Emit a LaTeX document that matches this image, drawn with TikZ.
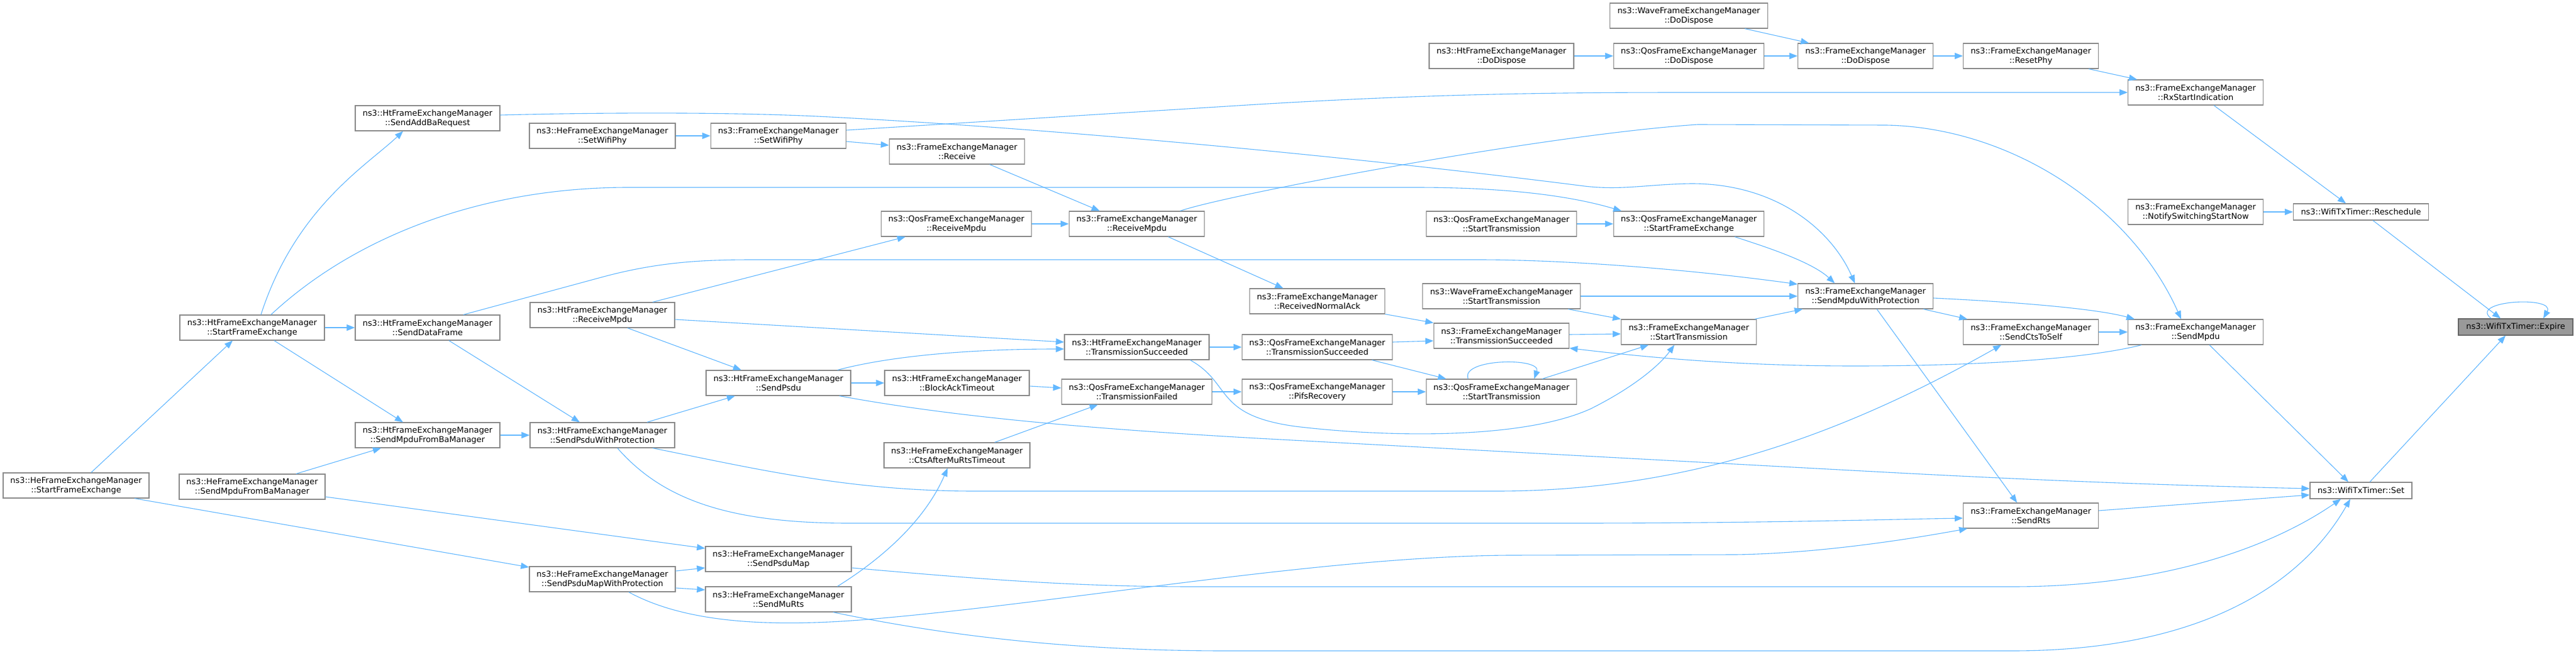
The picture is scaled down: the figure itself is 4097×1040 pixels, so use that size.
\documentclass[tikz,border=0pt]{standalone}
\usepackage{fontspec}
\setmainfont{DejaVu Sans}
\usetikzlibrary{arrows.meta}
\definecolor{edgeblue}{HTML}{63B8FF}
\definecolor{boxline}{HTML}{8A8A8A}
\definecolor{boxgray}{HTML}{999999}
\definecolor{boxdark}{HTML}{666666}

\begin{document}
\begin{tikzpicture}[x=1pt, y=-1pt,
    fn/.style={draw=boxline, line width=1.2pt, fill=white, inner sep=0pt, minimum height=40pt, align=center, font=\fontsize{12.9}{15}\selectfont},
    fem/.style={fn, minimum width=215pt},
    htm/.style={fn, minimum width=230pt},
    hem/.style={fn, minimum width=232pt},
    qosm/.style={fn, minimum width=239pt},
    wavem/.style={fn, minimum width=251pt},
    timer/.style={fn, minimum height=26pt},
    call/.style={draw=edgeblue, line width=1.1pt, -{Triangle[length=13pt,width=10pt]}}] %callers
            \path[use as bounding box, fill=white] (0,0) rectangle (4097,1040);

            \node[hem] (hesfe) at (121,772) {ns3::HeFrameExchangeManager\\::StartFrameExchange};
            \node[htm] (htsfe) at (401,521) {ns3::HtFrameExchangeManager\\::StartFrameExchange};
            \node[hem] (hesmfb) at (401,774) {ns3::HeFrameExchangeManager\\::SendMpduFromBaManager};
            \node[htm] (htaddba) at (680,188) {ns3::HtFrameExchangeManager\\::SendAddBaRequest};
            \node[htm] (htsdf) at (680,521) {ns3::HtFrameExchangeManager\\::SendDataFrame};
            \node[htm] (htsmfb) at (680,692) {ns3::HtFrameExchangeManager\\::SendMpduFromBaManager};
            \node[hem] (heswp) at (958,216) {ns3::HeFrameExchangeManager\\::SetWifiPhy};
            \node[htm] (htrmpdu) at (958,501) {ns3::HtFrameExchangeManager\\::ReceiveMpdu};
            \node[htm] (htspwp) at (958,692) {ns3::HtFrameExchangeManager\\::SendPsduWithProtection};
            \node[hem] (hespmwp) at (958,921) {ns3::HeFrameExchangeManager\\::SendPsduMapWithProtection};
            \node[fem] (feswp) at (1238,216) {ns3::FrameExchangeManager\\::SetWifiPhy};
            \node[htm] (htspsdu) at (1238,609) {ns3::HtFrameExchangeManager\\::SendPsdu};
            \node[hem] (hespm) at (1238,889) {ns3::HeFrameExchangeManager\\::SendPsduMap};
            \node[hem] (hesmurts) at (1238,953) {ns3::HeFrameExchangeManager\\::SendMuRts};
            \node[fem] (ferecv) at (1522,241) {ns3::FrameExchangeManager\\::Receive};
            \node[qosm] (qosrmpdu) at (1521,356) {ns3::QosFrameExchangeManager\\::ReceiveMpdu};
            \node[htm] (htbat) at (1522,609) {ns3::HtFrameExchangeManager\\::BlockAckTimeout};
            \node[hem] (hects) at (1522,724) {ns3::HeFrameExchangeManager\\::CtsAfterMuRtsTimeout};
            \node[fem] (fermpdu) at (1808,356) {ns3::FrameExchangeManager\\::ReceiveMpdu};
            \node[htm] (htts) at (1808,552) {ns3::HtFrameExchangeManager\\::TransmissionSucceeded};
            \node[qosm] (qostf) at (1808,623) {ns3::QosFrameExchangeManager\\::TransmissionFailed};
            \node[fem] (fernack) at (2095,479) {ns3::FrameExchangeManager\\::ReceivedNormalAck};
            \node[qosm] (qosts) at (2095,552) {ns3::QosFrameExchangeManager\\::TransmissionSucceeded};
            \node[qosm] (qospifs) at (2095,623) {ns3::QosFrameExchangeManager\\::PifsRecovery};
            \node[htm] (htdd) at (2388,89) {ns3::HtFrameExchangeManager\\::DoDispose};
            \node[qosm] (qosstx) at (2388,356) {ns3::QosFrameExchangeManager\\::StartTransmission};
            \node[wavem] (wavestx) at (2388,471) {ns3::WaveFrameExchangeManager\\::StartTransmission};
            \node[fem] (fets) at (2388,534) {ns3::FrameExchangeManager\\::TransmissionSucceeded};
            \node[qosm] (qosstxb) at (2388,623) {ns3::QosFrameExchangeManager\\::StartTransmission};
            \node[wavem] (wavedd) at (2686,25) {ns3::WaveFrameExchangeManager\\::DoDispose};
            \node[qosm] (qosdd) at (2686,89) {ns3::QosFrameExchangeManager\\::DoDispose};
            \node[qosm] (qossfe) at (2686,356) {ns3::QosFrameExchangeManager\\::StartFrameExchange};
            \node[fem] (festx) at (2686,528) {ns3::FrameExchangeManager\\::StartTransmission};
            \node[fem] (fedd) at (2967,89) {ns3::FrameExchangeManager\\::DoDispose};
            \node[fem] (fesmwp) at (2967,471) {ns3::FrameExchangeManager\\::SendMpduWithProtection};
            \node[fem] (ferp) at (3230,89) {ns3::FrameExchangeManager\\::ResetPhy};
            \node[fem] (fects) at (3230,528) {ns3::FrameExchangeManager\\::SendCtsToSelf};
            \node[fem] (ferts) at (3230,820) {ns3::FrameExchangeManager\\::SendRts};
            \node[fem] (ferxsi) at (3492,147) {ns3::FrameExchangeManager\\::RxStartIndication};
            \node[fem] (fenssn) at (3492,337) {ns3::FrameExchangeManager\\::NotifySwitchingStartNow};
            \node[fem] (fesmpdu) at (3492,528) {ns3::FrameExchangeManager\\::SendMpdu};
            \node[timer, minimum width=215pt] (resched) at (3755,337) {ns3::WifiTxTimer::Reschedule};
            \node[timer, minimum width=162pt] (txset) at (3755,780) {ns3::WifiTxTimer::Set};
            \node[timer, minimum width=182pt, fill=boxgray, draw=boxdark] (expire) at (4001,520) {ns3::WifiTxTimer::Expire};

            \draw[call] ([xshift=24pt]hesfe.north) -- ([xshift=-31pt]htsfe.south);
            \draw[call] ([xshift=93pt]hesfe.south) -- ([yshift=19pt]hespmwp.west);
            \draw[call] ([xshift=14pt]htsfe.north) .. controls (470,330) and (585,262) .. ([xshift=-39pt]htaddba.south);
            \draw[call] ([xshift=30pt]htsfe.north) .. controls (560,380) and (760,298) .. (1000,298) -- (2250,298) .. controls (2400,298) and (2500,312) .. ([xshift=13pt]qossfe.north west);
            \draw[call] (htsfe.east) -- (htsdf.west);
            \draw[call] ([xshift=35pt]htsfe.south) -- ([xshift=-39pt]htsmfb.north);
            \draw[call] ([xshift=70pt]hesmfb.north) -- ([xshift=-74pt]htsmfb.south);
            \draw[call] ([yshift=-16pt]hesmfb.east) -- ([yshift=17pt]hespm.west);
            \draw[call] ([yshift=5pt]htaddba.east) .. controls (950,179) and (1150,178) .. (1300,185) .. controls (1700,205) and (2200,255) .. (2520,296) .. controls (2580,303) and (2620,293) .. (2690,292) .. controls (2830,292) and (2915,370) .. ([xshift=-17pt]fesmwp.north);
            \draw[call] (heswp.east) -- (feswp.west);
            \draw[call] ([yshift=9pt]feswp.east) -- (2000,166) .. controls (2300,148) and (2500,147) .. (2700,147) -- (ferxsi.west);
            \draw[call] ([yshift=-9pt]feswp.east) -- ([yshift=10pt]ferecv.west);
            \draw[call] ([xshift=52pt]ferecv.south) -- ([xshift=-59pt]fermpdu.north);
            \draw[call] (qosrmpdu.east) -- (fermpdu.west);
            \draw[call] ([xshift=80pt]htrmpdu.north) -- ([xshift=-81pt]qosrmpdu.south);
            \draw[call] ([xshift=69pt]fermpdu.north) .. controls (1950,310) and (2450,215) .. (2700,198) -- (3000,199) .. controls (3200,203) and (3390,330) .. ([xshift=-23pt]fesmpdu.north);
            \draw[call] ([xshift=50pt]fermpdu.south) -- ([xshift=-54pt]fernack.north);
            \draw[call] (fernack.south east) -- (fets.north west);
            \draw[call] ([xshift=57pt]htsdf.north) -- (960,440) .. controls (1050,416) and (1120,413) .. (1200,413) -- (2350,413) .. controls (2500,413) and (2700,430) .. ([yshift=19pt]fesmwp.west);
            \draw[call] ([xshift=34pt]htsdf.south) -- ([xshift=-36pt]htspwp.north);
            \draw[call] (htsmfb.east) -- (htspwp.west);
            \draw[call] ([xshift=40pt]htrmpdu.south) -- ([xshift=-59pt]htspsdu.north);
            \draw[call] ([yshift=-7pt]htrmpdu.east) -- ([yshift=8pt]htts.west);
            \draw[call] ([xshift=71pt]htspwp.north) -- ([xshift=-69pt]htspsdu.south);
            \draw[call] ([xshift=94pt]htspsdu.north) .. controls (1420,565) and (1550,555) .. ([yshift=-3pt]htts.west);
            \draw[call] (htspsdu.east) -- (htbat.west);
            \draw[call] ([xshift=97pt]htspsdu.south) .. controls (1500,660) and (1700,680) .. (2000,697) -- (3000,751) .. controls (3300,767) and (3500,773) .. ([yshift=3pt]txset.west);
            \draw[call] ([yshift=-5pt]htbat.east) -- ([yshift=6pt]qostf.west);
            \draw[call] ([xshift=60pt]hects.north) -- ([xshift=-62pt]qostf.south);
            \draw[call] ([xshift=94pt]hesmurts.north) .. controls (1400,890) and (1470,830) .. ([xshift=-15pt]hects.south);
            \draw[call] (htts.east) -- (qosts.west);
            \draw[call] (qostf.east) -- (qospifs.west);
            \draw[call] ([xshift=85pt]htts.south) .. controls (1960,610) and (1930,660) .. (2060,678) .. controls (2200,695) and (2420,700) .. (2530,650) .. controls (2600,615) and (2640,580) .. ([xshift=-23pt]festx.south);
            \draw[call] ([yshift=8pt]qosts.east) -- ([yshift=-8pt]fets.west);
            \draw[call] ([xshift=87pt]qosts.south) -- ([xshift=-88pt]qosstxb.north);
            \draw[call] (qospifs.east) -- (qosstxb.west);
            \draw[call] ([xshift=-53pt]qosstxb.north) .. controls (2322,570) and (2452,568) .. ([xshift=52pt]qosstxb.north);
            \draw[call] ([xshift=65pt]qosstxb.north) -- ([xshift=-64pt]festx.south);
            \draw[call] ([yshift=2pt]fets.east) -- ([yshift=-3pt]festx.west);
            \draw[call] ([xshift=-86pt]fesmpdu.south) .. controls (3300,575) and (3100,582) .. (2950,582) .. controls (2750,582) and (2600,566) .. ([yshift=1pt]fets.south east);

            \draw[call] (htdd.east) -- (qosdd.west);
            \draw[call] (qosdd.east) -- (fedd.west);
            \draw[call] ([xshift=89pt]wavedd.south) -- ([xshift=-90pt]fedd.north);
            \draw[call] (fedd.east) -- (ferp.west);
            \draw[call] ([xshift=92pt]ferp.south) -- ([xshift=-93pt]ferxsi.north);
            \draw[call] ([xshift=29pt]ferxsi.south) -- ([xshift=-24pt]resched.north);
            \draw[call] (fenssn.east) -- (resched.west);
            \draw[call] ([xshift=19pt]resched.south) -- ([xshift=-24pt]expire.north);
            \draw[call] ([xshift=-39pt]expire.north) .. controls (3925,478) and (4065,470) .. ([xshift=44pt]expire.north);
            \draw[call] ([xshift=14pt]txset.north) -- ([xshift=-16pt]expire.south);
            \draw[call] ([xshift=22pt]fesmpdu.south) -- ([xshift=-20pt]txset.north);
            \draw[call] ([yshift=8pt]ferts.east) -- ([yshift=-7pt]txset.west);

            \draw[call] (qosstx.east) -- (qossfe.west);
            \draw[call] ([xshift=73pt]qossfe.south) .. controls (2800,390) and (2880,415) .. ([xshift=-49pt]fesmwp.north);
            \draw[call] (wavestx.east) -- (fesmwp.west);
            \draw[call] ([xshift=106pt]wavestx.south) -- (festx.north west);
            \draw[call] ([xshift=105pt]festx.north) -- ([xshift=-100pt]fesmwp.south);
            \draw[call] ([xshift=18pt]fesmwp.south) -- ([xshift=-22pt]ferts.north);
            \draw[call] ([yshift=-3pt]fesmwp.east) .. controls (3200,480) and (3330,490) .. ([xshift=-97pt]fesmpdu.north);
            \draw[call] ([xshift=92pt]fesmwp.south) -- ([xshift=-101pt]fects.north);
            \draw[call] (fects.east) -- (fesmpdu.west);

            \draw[call] ([xshift=80pt]htspwp.south) .. controls (1200,745) and (1350,781) .. (1550,781) -- (2380,781) .. controls (2700,781) and (2950,680) .. ([xshift=-47pt]fects.south);
            \draw[call] ([xshift=24pt]htspwp.south) .. controls (1050,790) and (1150,832) .. (1350,832) -- (2500,832) .. controls (2800,832) and (3000,826) .. ([yshift=-4pt]ferts.west);
            \draw[call] ([yshift=13pt]hespmwp.east) -- ([yshift=-14pt]hespm.west);
            \draw[call] ([yshift=-14pt]hespmwp.east) -- ([yshift=15pt]hesmurts.west);
            \draw[call] ([xshift=42pt]hespmwp.south) .. controls (1080,985) and (1200,1000) .. (1380,985) .. controls (1700,958) and (2100,885) .. (2400,883) -- (2760,882) .. controls (2900,880) and (3050,855) .. ([xshift=7pt]ferts.south west);
            \draw[call] ([yshift=-14pt]hespm.east) .. controls (1550,920) and (1700,933) .. (1900,933) -- (3200,933) .. controls (3450,933) and (3620,865) .. ([xshift=-32pt]txset.south);
            \draw[call] ([xshift=87pt]hesmurts.south) .. controls (1500,1010) and (1700,1035) .. (1950,1035) -- (3200,1035) .. controls (3500,1035) and (3660,930) .. ([xshift=-17pt]txset.south);
        \end{tikzpicture}
\end{document}
